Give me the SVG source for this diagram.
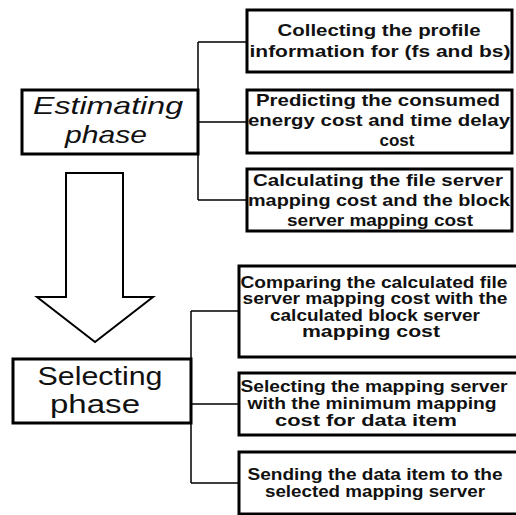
<svg xmlns="http://www.w3.org/2000/svg" width="516" height="515" viewBox="0 0 516 515">
<style>
.box{fill:#fff;stroke:#000;stroke-width:3}
.conn{fill:none;stroke:#000;stroke-width:1.5}
.t{font-family:"Liberation Sans",Arial,sans-serif;font-weight:bold;fill:#111;text-anchor:middle}
.t17{font-size:17px}
.t16{font-size:16px}
.ph{font-family:"Liberation Sans",Arial,sans-serif;fill:#111;text-anchor:middle}
</style>
<rect width="516" height="515" fill="#fff"/>
<g id="connectors">
<path class="conn" d="M198,42 V200 M198,42 H247 M198,122 H247 M198,200 H247"/>
<path class="conn" d="M191,311 V483 M191,311 H239 M191,404 H239 M191,483 H239"/>
</g>
<g id="arrow">
<polygon points="66,173 123,173 123,297 153,297 95,342 37,297 66,297" fill="#fff" stroke="#000" stroke-width="2"/>
</g>
<g id="estimating">
<rect class="box" x="22" y="90" width="176" height="64"/>
<text class="ph" x="108" y="114" font-size="24" font-style="italic" textLength="150" lengthAdjust="spacingAndGlyphs">Estimating</text>
<text class="ph" x="106" y="143" font-size="24" font-style="italic" textLength="82" lengthAdjust="spacingAndGlyphs">phase</text>
</g>
<g id="collecting">
<rect class="box" x="247" y="10" width="265" height="62"/>
<text class="t t17" x="379" y="36" textLength="203" lengthAdjust="spacingAndGlyphs">Collecting the profile</text>
<text class="t t17" x="380" y="57" textLength="261" lengthAdjust="spacingAndGlyphs">information for (fs and bs)</text>
</g>
<g id="predicting">
<rect class="box" x="247" y="90" width="265" height="63"/>
<text class="t t17" x="378" y="106" textLength="244" lengthAdjust="spacingAndGlyphs">Predicting the consumed</text>
<text class="t t17" x="379" y="126" textLength="262" lengthAdjust="spacingAndGlyphs">energy cost and  time delay</text>
<text class="t t17" x="397" y="146" textLength="35" lengthAdjust="spacingAndGlyphs">cost</text>
</g>
<g id="calculating">
<rect class="box" x="247" y="169" width="265" height="62"/>
<text class="t t17" x="378" y="186" textLength="250" lengthAdjust="spacingAndGlyphs">Calculating the file server</text>
<text class="t t17" x="379" y="206" textLength="262" lengthAdjust="spacingAndGlyphs">mapping cost and the block</text>
<text class="t t17" x="380" y="226" textLength="186" lengthAdjust="spacingAndGlyphs">server mapping cost</text>
</g>
<g id="selecting">
<rect class="box" x="13" y="359" width="178" height="64"/>
<text class="ph" x="100" y="385" font-size="26" textLength="125" lengthAdjust="spacingAndGlyphs">Selecting</text>
<text class="ph" x="95" y="413" font-size="26" textLength="90" lengthAdjust="spacingAndGlyphs">phase</text>
</g>
<g id="comparing">
<rect class="box" x="239" y="266" width="285" height="91"/>
<text class="t t16" x="374" y="288" textLength="267" lengthAdjust="spacingAndGlyphs">Comparing the calculated file</text>
<text class="t t16" x="375" y="304" textLength="265" lengthAdjust="spacingAndGlyphs">server mapping cost with the</text>
<text class="t t16" x="375" y="321" textLength="210" lengthAdjust="spacingAndGlyphs">calculated block server</text>
<text class="t t16" x="371" y="337" textLength="138" lengthAdjust="spacingAndGlyphs">mapping cost</text>
</g>
<g id="selectingserver">
<rect class="box" x="239" y="373" width="285" height="62"/>
<text class="t t16" x="374" y="392" textLength="267" lengthAdjust="spacingAndGlyphs">Selecting the mapping server</text>
<text class="t t16" x="372" y="409" textLength="249" lengthAdjust="spacingAndGlyphs">with the minimum mapping</text>
<text class="t t16" x="366" y="426" textLength="182" lengthAdjust="spacingAndGlyphs">cost for data item</text>
</g>
<g id="sending">
<rect class="box" x="239" y="452" width="285" height="62"/>
<text class="t t16" x="375" y="480" textLength="255" lengthAdjust="spacingAndGlyphs">Sending the data item to the</text>
<text class="t t16" x="375" y="497" textLength="220" lengthAdjust="spacingAndGlyphs">selected mapping server</text>
</g>
</svg>
